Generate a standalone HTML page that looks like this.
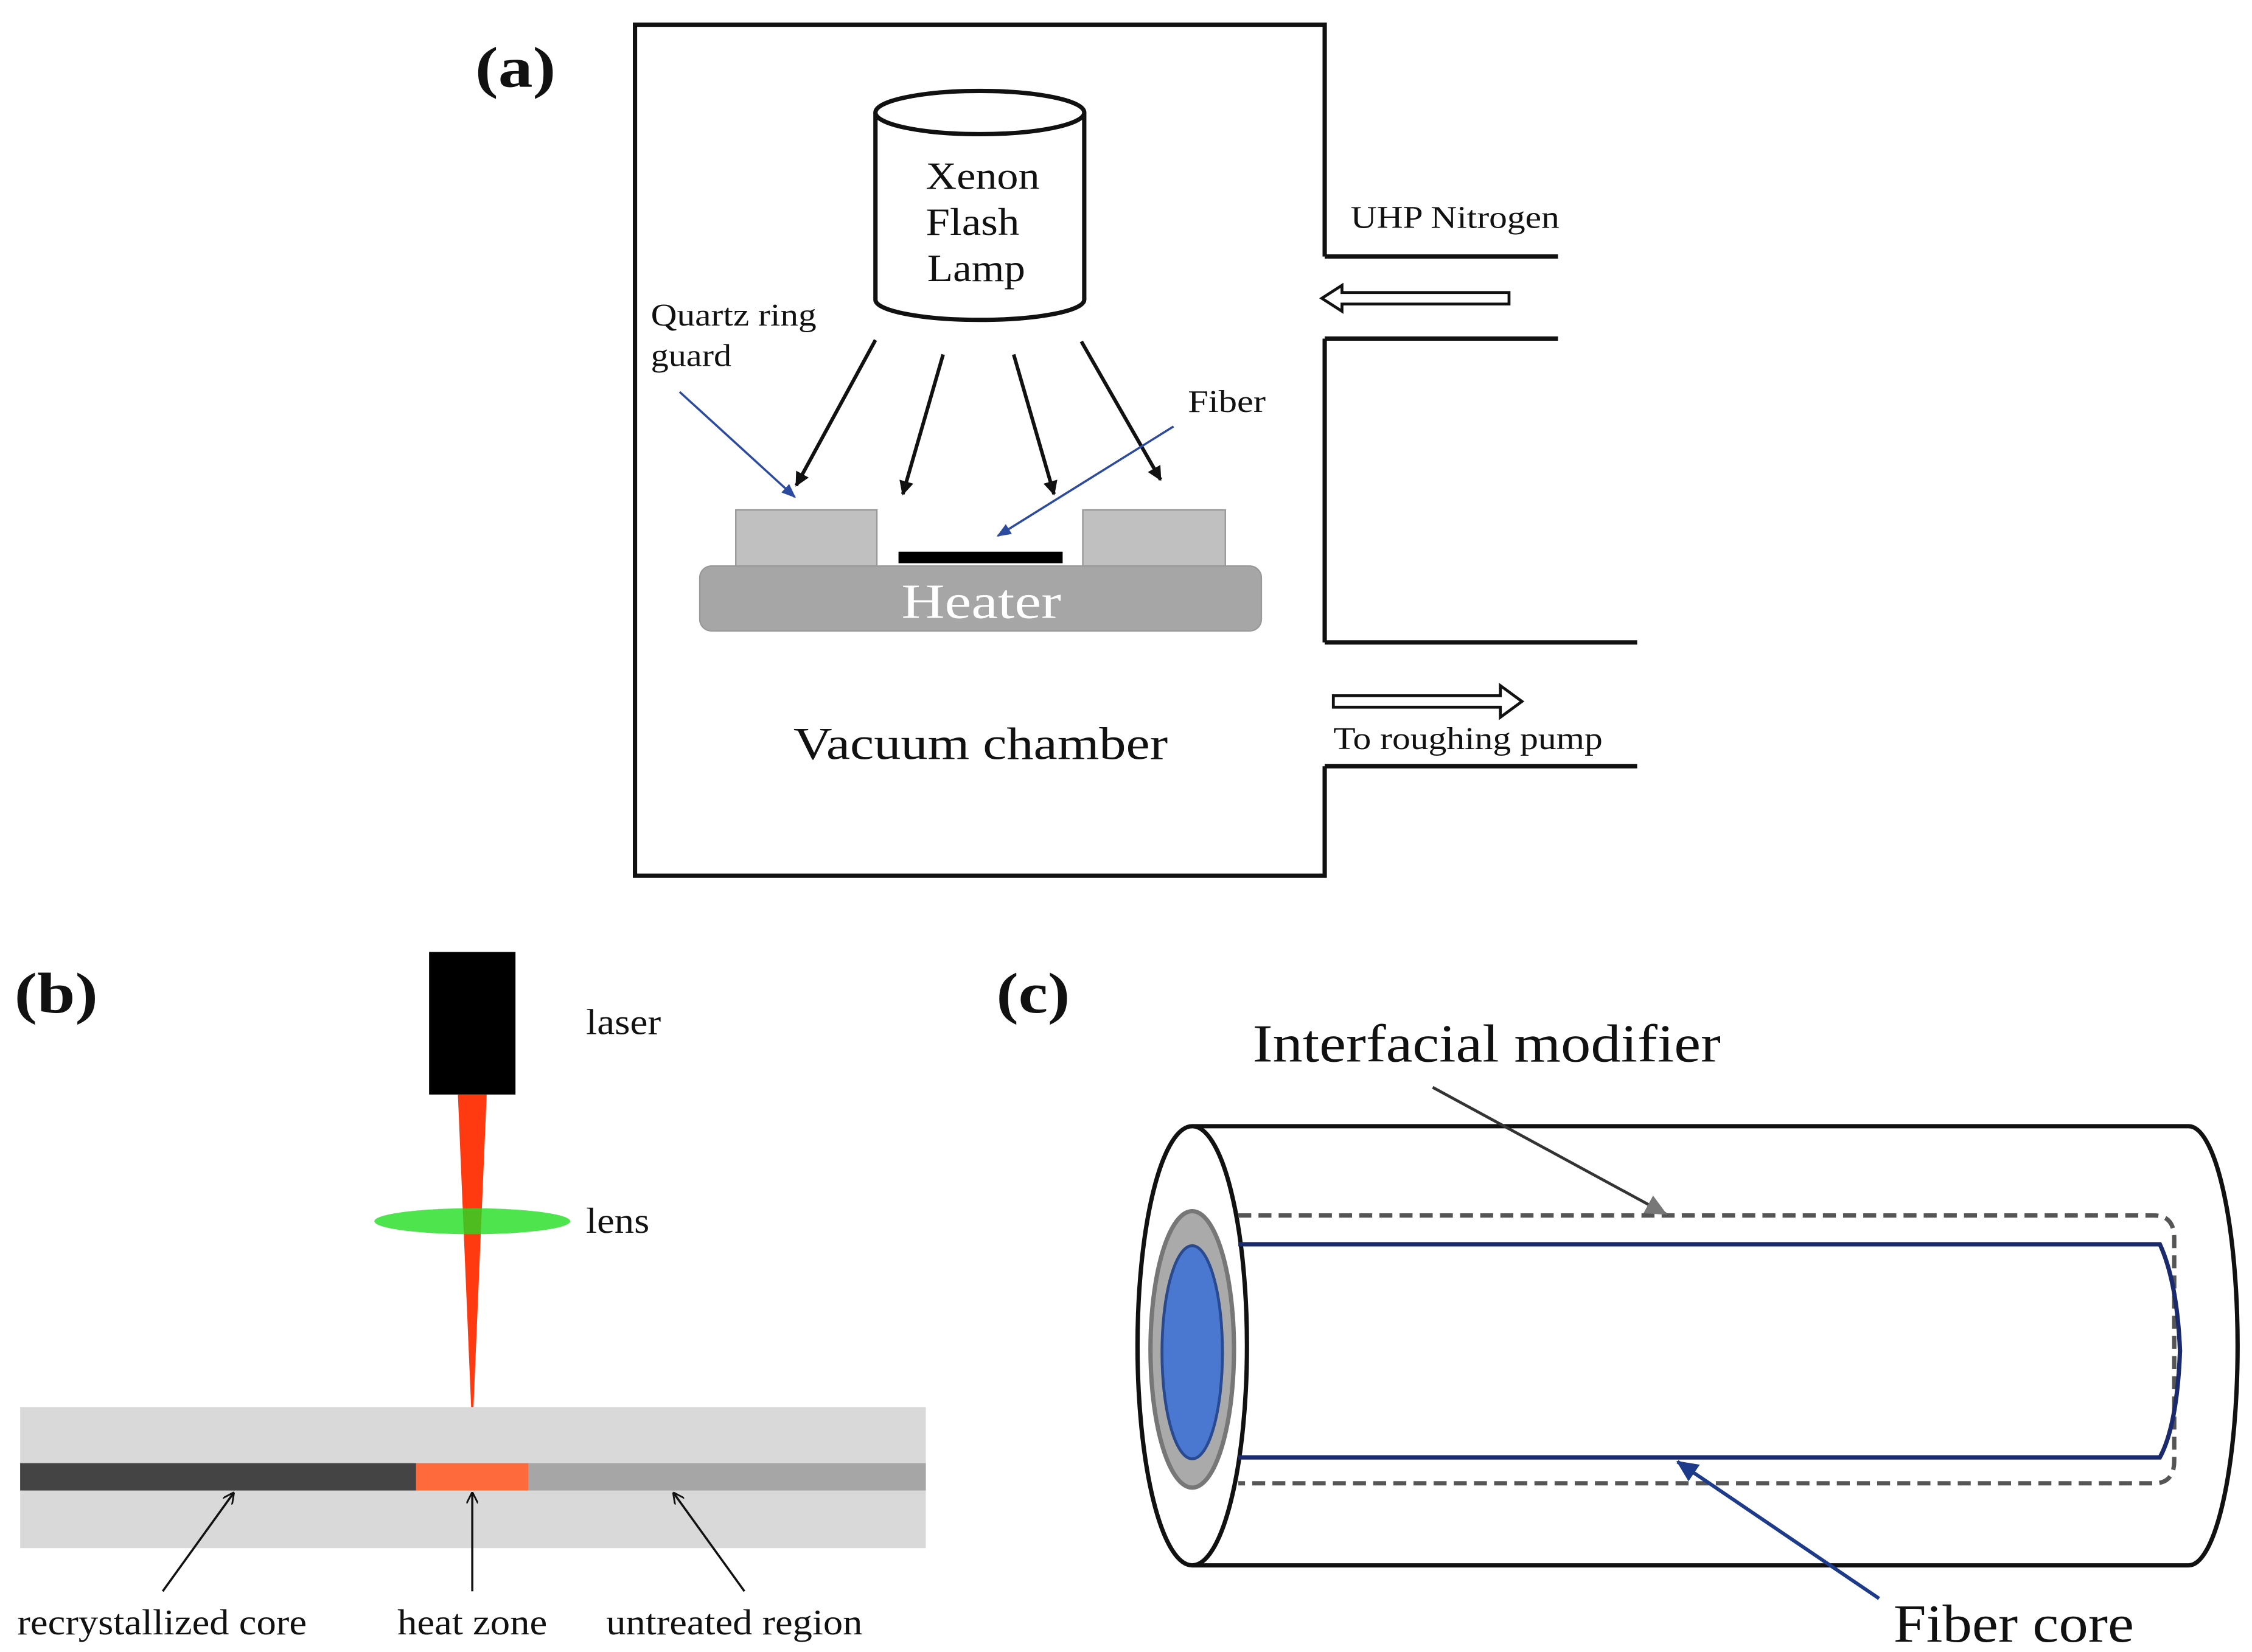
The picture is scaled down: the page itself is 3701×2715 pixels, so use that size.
<!DOCTYPE html>
<html><head><meta charset="utf-8"><style>html,body{margin:0;padding:0;background:#fff}svg{display:block}text{font-family:"Liberation Serif",serif;fill:#111}</style></head><body>
<svg width="3701" height="2715" viewBox="0 0 1564 1147" xmlns="http://www.w3.org/2000/svg">
<defs>
<marker id="ab" markerWidth="10" markerHeight="10" refX="9" refY="5" orient="auto" markerUnits="userSpaceOnUse"><path d="M0,0 L10,5 L0,10 Z" fill="#111"/></marker>
<marker id="abl" markerWidth="10" markerHeight="10" refX="9" refY="5" orient="auto" markerUnits="userSpaceOnUse"><path d="M0,1 L10,5 L0,9 Z" fill="#2b4aa0"/></marker>
<marker id="ag" markerWidth="16" markerHeight="16" refX="14" refY="8" orient="auto" markerUnits="userSpaceOnUse"><path d="M0,1 L15,8 L0,15 Z" fill="#777"/></marker>
<marker id="an" markerWidth="16" markerHeight="16" refX="14" refY="8" orient="auto" markerUnits="userSpaceOnUse"><path d="M0,1 L15,8 L0,15 Z" fill="#1e3a8a"/></marker>
<marker id="at" markerWidth="8" markerHeight="8" refX="7" refY="4" orient="auto" markerUnits="userSpaceOnUse"><path d="M0,0 L8,4 L0,8" fill="none" stroke="#111" stroke-width="1.2"/></marker>
</defs>
<!-- Panel a -->
<text x="330" y="60" font-size="40" font-weight="bold" textLength="56" lengthAdjust="spacingAndGlyphs">(a)</text>
<path d="M920,178 V17 H441 V608 H920 V532 M920,446 V235" fill="none" stroke="#111" stroke-width="3"/>
<path d="M920,178 H1082 M920,235 H1082 M920,446 H1137 M920,532 H1137" stroke="#111" stroke-width="3"/>
<path d="M608,78 V208 A72.5,14 0 0 0 753,208 V78" fill="#fff" stroke="#111" stroke-width="3"/>
<ellipse cx="680.5" cy="78" rx="72.5" ry="15" fill="#fff" stroke="#111" stroke-width="3"/>
<text x="643" y="131" font-size="27" textLength="79" lengthAdjust="spacingAndGlyphs">Xenon</text>
<text x="643" y="163" font-size="27" textLength="65" lengthAdjust="spacingAndGlyphs">Flash</text>
<text x="644" y="195" font-size="27" textLength="68" lengthAdjust="spacingAndGlyphs">Lamp</text>
<g stroke="#111" stroke-width="2.5" marker-end="url(#ab)">
<line x1="608" y1="236" x2="553" y2="337"/><line x1="655" y1="246" x2="627" y2="343"/>
<line x1="704" y1="246" x2="732" y2="343"/><line x1="751" y1="237" x2="806" y2="333"/></g>
<text x="452" y="226" font-size="22" textLength="115" lengthAdjust="spacingAndGlyphs">Quartz ring</text><text x="452" y="254" font-size="22" textLength="56" lengthAdjust="spacingAndGlyphs">guard</text>
<line x1="472" y1="272" x2="552" y2="345" stroke="#2b4aa0" stroke-width="1.5" marker-end="url(#abl)"/>
<text x="825" y="286" font-size="22" textLength="54" lengthAdjust="spacingAndGlyphs">Fiber</text>
<line x1="815" y1="296" x2="693" y2="372" stroke="#2b4aa0" stroke-width="1.5" marker-end="url(#abl)"/>
<rect x="511" y="354" width="98" height="39" fill="#c0c0c0" stroke="#999"/>
<rect x="752" y="354" width="99" height="39" fill="#c0c0c0" stroke="#999"/>
<rect x="486" y="393" width="390" height="45" rx="8" fill="#a6a6a6" stroke="#999"/>
<rect x="624" y="383" width="114" height="8" fill="#000"/>
<text x="626" y="429" font-size="34" style="fill:#fff" textLength="111" lengthAdjust="spacingAndGlyphs">Heater</text>
<text x="551" y="527" font-size="32" textLength="260" lengthAdjust="spacingAndGlyphs">Vacuum chamber</text>
<text x="938" y="158" font-size="22" textLength="145" lengthAdjust="spacingAndGlyphs">UHP Nitrogen</text>
<path d="M1048,203 H932 V198 L918,207 L932,216 V211 H1048 Z" fill="#fff" stroke="#111" stroke-width="2"/>
<path d="M926,483 H1042 V476 L1057,487 L1042,498 V491 H926 Z" fill="#fff" stroke="#111" stroke-width="2"/>
<text x="926" y="520" font-size="22" textLength="187" lengthAdjust="spacingAndGlyphs">To roughing pump</text>
<!-- Panel b -->
<text x="10" y="703" font-size="40" font-weight="bold" textLength="58" lengthAdjust="spacingAndGlyphs">(b)</text>
<rect x="298" y="661" width="60" height="99" fill="#000"/>
<text x="407" y="718" font-size="25" textLength="52" lengthAdjust="spacingAndGlyphs">laser</text>
<polygon points="318,760 338,760 328,996" fill="#ff3a10"/>
<ellipse cx="328" cy="848" rx="68" ry="9" fill="#22dd22" fill-opacity="0.8"/>
<text x="407" y="856" font-size="25" textLength="44" lengthAdjust="spacingAndGlyphs">lens</text>
<rect x="14" y="977" width="629" height="98" fill="#d9d9d9"/>
<rect x="14" y="1016" width="275" height="19" fill="#444"/>
<rect x="289" y="1016" width="78" height="19" fill="#ff6a3d"/>
<rect x="367" y="1016" width="276" height="19" fill="#a6a6a6"/>
<g stroke="#111" stroke-width="1.5" marker-end="url(#at)">
<line x1="113" y1="1105" x2="162" y2="1037"/><line x1="328" y1="1105" x2="328" y2="1037"/><line x1="517" y1="1105" x2="468" y2="1037"/></g>
<text x="12" y="1135" font-size="25" textLength="201" lengthAdjust="spacingAndGlyphs">recrystallized core</text>
<text x="276" y="1135" font-size="25" textLength="104" lengthAdjust="spacingAndGlyphs">heat zone</text>
<text x="421" y="1135" font-size="25" textLength="178" lengthAdjust="spacingAndGlyphs">untreated region</text>
<!-- Panel c -->
<text x="692" y="703" font-size="40" font-weight="bold" textLength="51" lengthAdjust="spacingAndGlyphs">(c)</text>
<path d="M828,782 H1520 A34,152.5 0 0 1 1520,1087 H828" fill="#fff" stroke="#111" stroke-width="3"/>
<ellipse cx="828" cy="934.5" rx="38" ry="152.5" fill="#fff" stroke="#111" stroke-width="3"/>
<ellipse cx="828" cy="937" rx="29" ry="96" fill="#aaa" stroke="#777" stroke-width="3"/>
<ellipse cx="828" cy="939" rx="21" ry="74" fill="#4a78d0" stroke="#2a4a90" stroke-width="2"/>
<path d="M860,844 H1496 Q1510,844 1510,860 V1014 Q1510,1030 1496,1030 H860" fill="none" stroke="#555" stroke-width="3" stroke-dasharray="9,5"/>
<path d="M860,864 H1500 Q1512,890 1514,938 Q1512,990 1500,1012 H860" fill="none" stroke="#1a2a6c" stroke-width="3"/>
<text x="870" y="737" font-size="37" textLength="325" lengthAdjust="spacingAndGlyphs">Interfacial modifier</text>
<line x1="995" y1="755" x2="1157" y2="843" stroke="#333" stroke-width="2" marker-end="url(#ag)"/>
<text x="1315" y="1140" font-size="37" textLength="167" lengthAdjust="spacingAndGlyphs">Fiber core</text>
<line x1="1305" y1="1110" x2="1165" y2="1015" stroke="#1e3a8a" stroke-width="2.5" marker-end="url(#an)"/>
</svg>
</body></html>
